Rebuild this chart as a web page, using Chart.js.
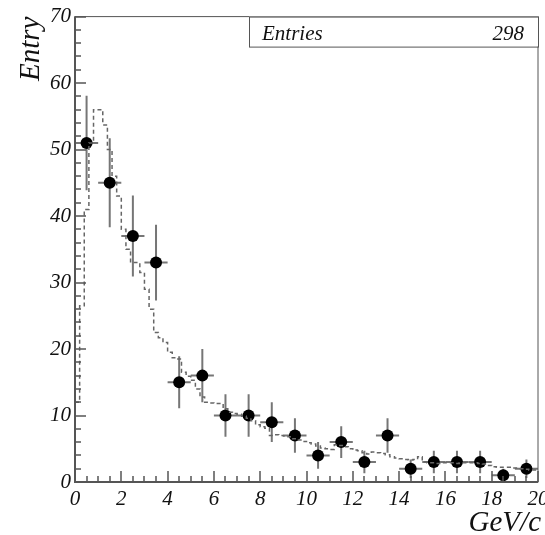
<!DOCTYPE html>
<html>
<head>
<meta charset="utf-8">
<script src="https://cdn.jsdelivr.net/npm/chart.js@4.4.1/dist/chart.umd.min.js"></script>
<style>
  html, body { margin: 0; padding: 0; background: #fff; }
  #wrap { width: 545px; height: 535px; }
</style>
</head>
<body>
<div id="wrap"><canvas id="chart" width="545" height="535"></canvas></div>
<script>
// measured entries, 1 GeV/c bins
const binCenters = [0.5, 1.5, 2.5, 3.5, 4.5, 5.5, 6.5, 7.5, 8.5, 9.5, 10.5, 11.5, 12.5, 13.5, 14.5, 15.5, 16.5, 17.5, 18.5, 19.5]
const counts = [51, 45, 37, 33, 15, 16, 10, 10, 9, 7, 4, 6, 3, 7, 2, 3, 3, 3, 1, 2]
const countErrors = [7.1, 6.7, 6.1, 5.7, 3.9, 4, 3.2, 3.2, 3, 2.6, 2, 2.4, 1.7, 2.6, 1.4, 1.7, 1.7, 1.7, 1, 1.4]
const binHalfWidth = 0.5

// reference shape (dashed histogram), 0.2 GeV/c bins from 0
const refBinWidth = 0.2
const refValues = [
  12, 26.5, 41, 51, 56, 56, 53.7, 50, 46, 43,
  38, 35, 33, 33, 31.5, 29, 26, 22.5, 21.7, 21,
  19.5, 18.7, 18.5, 16.5, 15.9, 15.3, 14, 12.8, 12, 11.9,
  11.8, 11.8, 11, 10.5, 10.3, 10.2, 9.9, 9.6, 9.2, 8.6,
  8.3, 8.1, 7.0, 7.1, 7.0, 6.9, 6.8, 6.5, 6.3, 6.1,
  5.9, 5.7, 5.4, 5.1, 5.0, 4.9, 5.6, 5.5, 5.3, 5.0,
  4.8, 4.7, 4.4, 4.2, 4.5, 4.4, 4.3, 4.1, 3.8, 3.6,
  3.5, 3.4, 3.3, 3.4, 3.8, 3.0, 2.9, 2.9, 2.8, 2.9,
  2.9, 2.9, 2.8, 2.9, 2.9, 2.9, 2.9, 2.8, 2.7, 2.5,
  2.3, 2.2, 2.2, 2.2, 2.1, 2.1, 2.0, 1.9, 1.8, 1.8,
]

const xMin = 0, xMax = 20
const yMin = 0, yMax = 70
const xMajorStep = 2, xMinorStep = 0.5
const yMajorStep = 10, yMinorStep = 2
const entries = 298

const axisColor = '#555'
const serif = '"Liberation Serif", "DejaVu Serif", serif'

const refData = refValues.map((v, i) => ({ x: xMin + i * refBinWidth, y: v }))
refData.push({ x: xMax, y: refValues[refValues.length - 1] })

const pointData = binCenters.map((x, i) => ({ x, y: counts[i] }))

/**
 * Error bars drawn just before the points dataset.
 */
const errorBarsPlugin = {
  id: 'errorBars',
  beforeDatasetDraw(chart, args) {
    if (args.index !== 1) return
    const { ctx, scales: { x, y } } = chart
    ctx.save()
    ctx.strokeStyle = '#767676'
    ctx.lineWidth = 2
    binCenters.forEach((c, i) => {
      const px = x.getPixelForValue(c)
      const py = y.getPixelForValue(counts[i])
      ctx.beginPath()
      ctx.moveTo(px, y.getPixelForValue(counts[i] - countErrors[i]))
      ctx.lineTo(px, y.getPixelForValue(counts[i] + countErrors[i]))
      ctx.moveTo(x.getPixelForValue(c - binHalfWidth), py)
      ctx.lineTo(x.getPixelForValue(c + binHalfWidth), py)
      ctx.stroke()
    })
    ctx.restore()
  },
}

/**
 * Frame and inward ticks, ROOT style.
 */
const framePlugin = {
  id: 'frame',
  afterDatasetsDraw(chart) {
    const { ctx, chartArea: { left, right, top, bottom }, scales: { x, y } } = chart
    ctx.save()
    ctx.strokeStyle = axisColor
    ctx.lineWidth = 1
    ctx.strokeRect(left, top, right - left, bottom - top)

    ctx.lineWidth = 2
    ctx.beginPath()
    ctx.moveTo(left, top)
    ctx.lineTo(left, bottom)
    ctx.lineTo(right, bottom)
    ctx.stroke()

    ctx.lineWidth = 1.5
    ctx.beginPath()
    for (let v = yMin; v <= yMax + 1e-9; v += yMinorStep) {
      const py = Math.round(y.getPixelForValue(v))
      const major = Math.abs(v / yMajorStep - Math.round(v / yMajorStep)) < 1e-6
      ctx.moveTo(left, py)
      ctx.lineTo(left + (major ? 11 : 6), py)
    }
    for (let v = xMin; v <= xMax + 1e-9; v += xMinorStep) {
      const px = Math.round(x.getPixelForValue(v))
      const major = Math.abs(v / xMajorStep - Math.round(v / xMajorStep)) < 1e-6
      ctx.moveTo(px, bottom)
      ctx.lineTo(px, bottom - (major ? 11 : 6))
    }
    ctx.stroke()
    ctx.restore()
  },
}

/**
 * Axis titles and the statistics box.
 */
const labelsPlugin = {
  id: 'labels',
  afterDraw(chart) {
    const { ctx, chartArea: { right, top } } = chart
    ctx.save()
    ctx.fillStyle = '#111'

    // y title
    ctx.font = `italic 29px ${serif}`
    ctx.translate(39, top)
    ctx.rotate(-Math.PI / 2)
    ctx.textAlign = 'right'
    ctx.textBaseline = 'alphabetic'
    ctx.fillText('Entry', 0, 0)
    ctx.setTransform(1, 0, 0, 1, 0, 0)

    // x title
    ctx.textAlign = 'right'
    ctx.fillText('GeV/c', 541, 531)

    // stats box
    const bx = 249
    ctx.fillStyle = '#fff'
    ctx.fillRect(bx, top, right - bx, 30)
    ctx.strokeStyle = axisColor
    ctx.lineWidth = 1
    ctx.strokeRect(bx + 0.5, top + 0.5, right - bx, 30)
    ctx.fillStyle = '#111'
    ctx.font = `italic 21px ${serif}`
    ctx.textAlign = 'left'
    ctx.fillText('Entries', 262, top + 23)
    ctx.textAlign = 'right'
    ctx.fillText(String(entries), 524, top + 23)
    ctx.restore()
  },
}

new Chart(document.getElementById('chart'), {
  type: 'line',
  data: {
    datasets: [
      {
        label: 'reference',
        data: refData,
        borderColor: '#666',
        borderWidth: 1.5,
        borderDash: [4, 3],
        stepped: true,
        pointRadius: 0,
        fill: false,
      },
      {
        label: 'data',
        data: pointData,
        showLine: false,
        pointRadius: 6,
        pointBackgroundColor: '#000',
        pointBorderColor: '#000',
        pointBorderWidth: 0,
      },
    ],
  },
  options: {
    responsive: false,
    animation: false,
    events: [],
    layout: { padding: { left: 0, top: 15, right: 7, bottom: 0 } },
    plugins: {
      legend: { display: false },
      tooltip: { enabled: false },
    },
    scales: {
      x: {
        type: 'linear',
        min: xMin,
        max: xMax,
        grid: { display: false, drawTicks: false },
        border: { display: false },
        ticks: {
          stepSize: xMajorStep,
          padding: 5,
          maxRotation: 0,
          color: '#111',
          font: { family: serif, style: 'italic', size: 21 },
        },
        afterFit: (s) => { s.height = 53; s.paddingLeft = 0; s.paddingRight = 0 },
      },
      y: {
        min: yMin,
        max: yMax,
        grid: { display: false, drawTicks: false },
        border: { display: false },
        ticks: {
          stepSize: yMajorStep,
          padding: 4,
          color: '#111',
          font: { family: serif, style: 'italic', size: 21 },
        },
        afterFit: (s) => { s.width = 75 },
      },
    },
  },
  plugins: [errorBarsPlugin, framePlugin, labelsPlugin],
})
</script>
</body>
</html>
